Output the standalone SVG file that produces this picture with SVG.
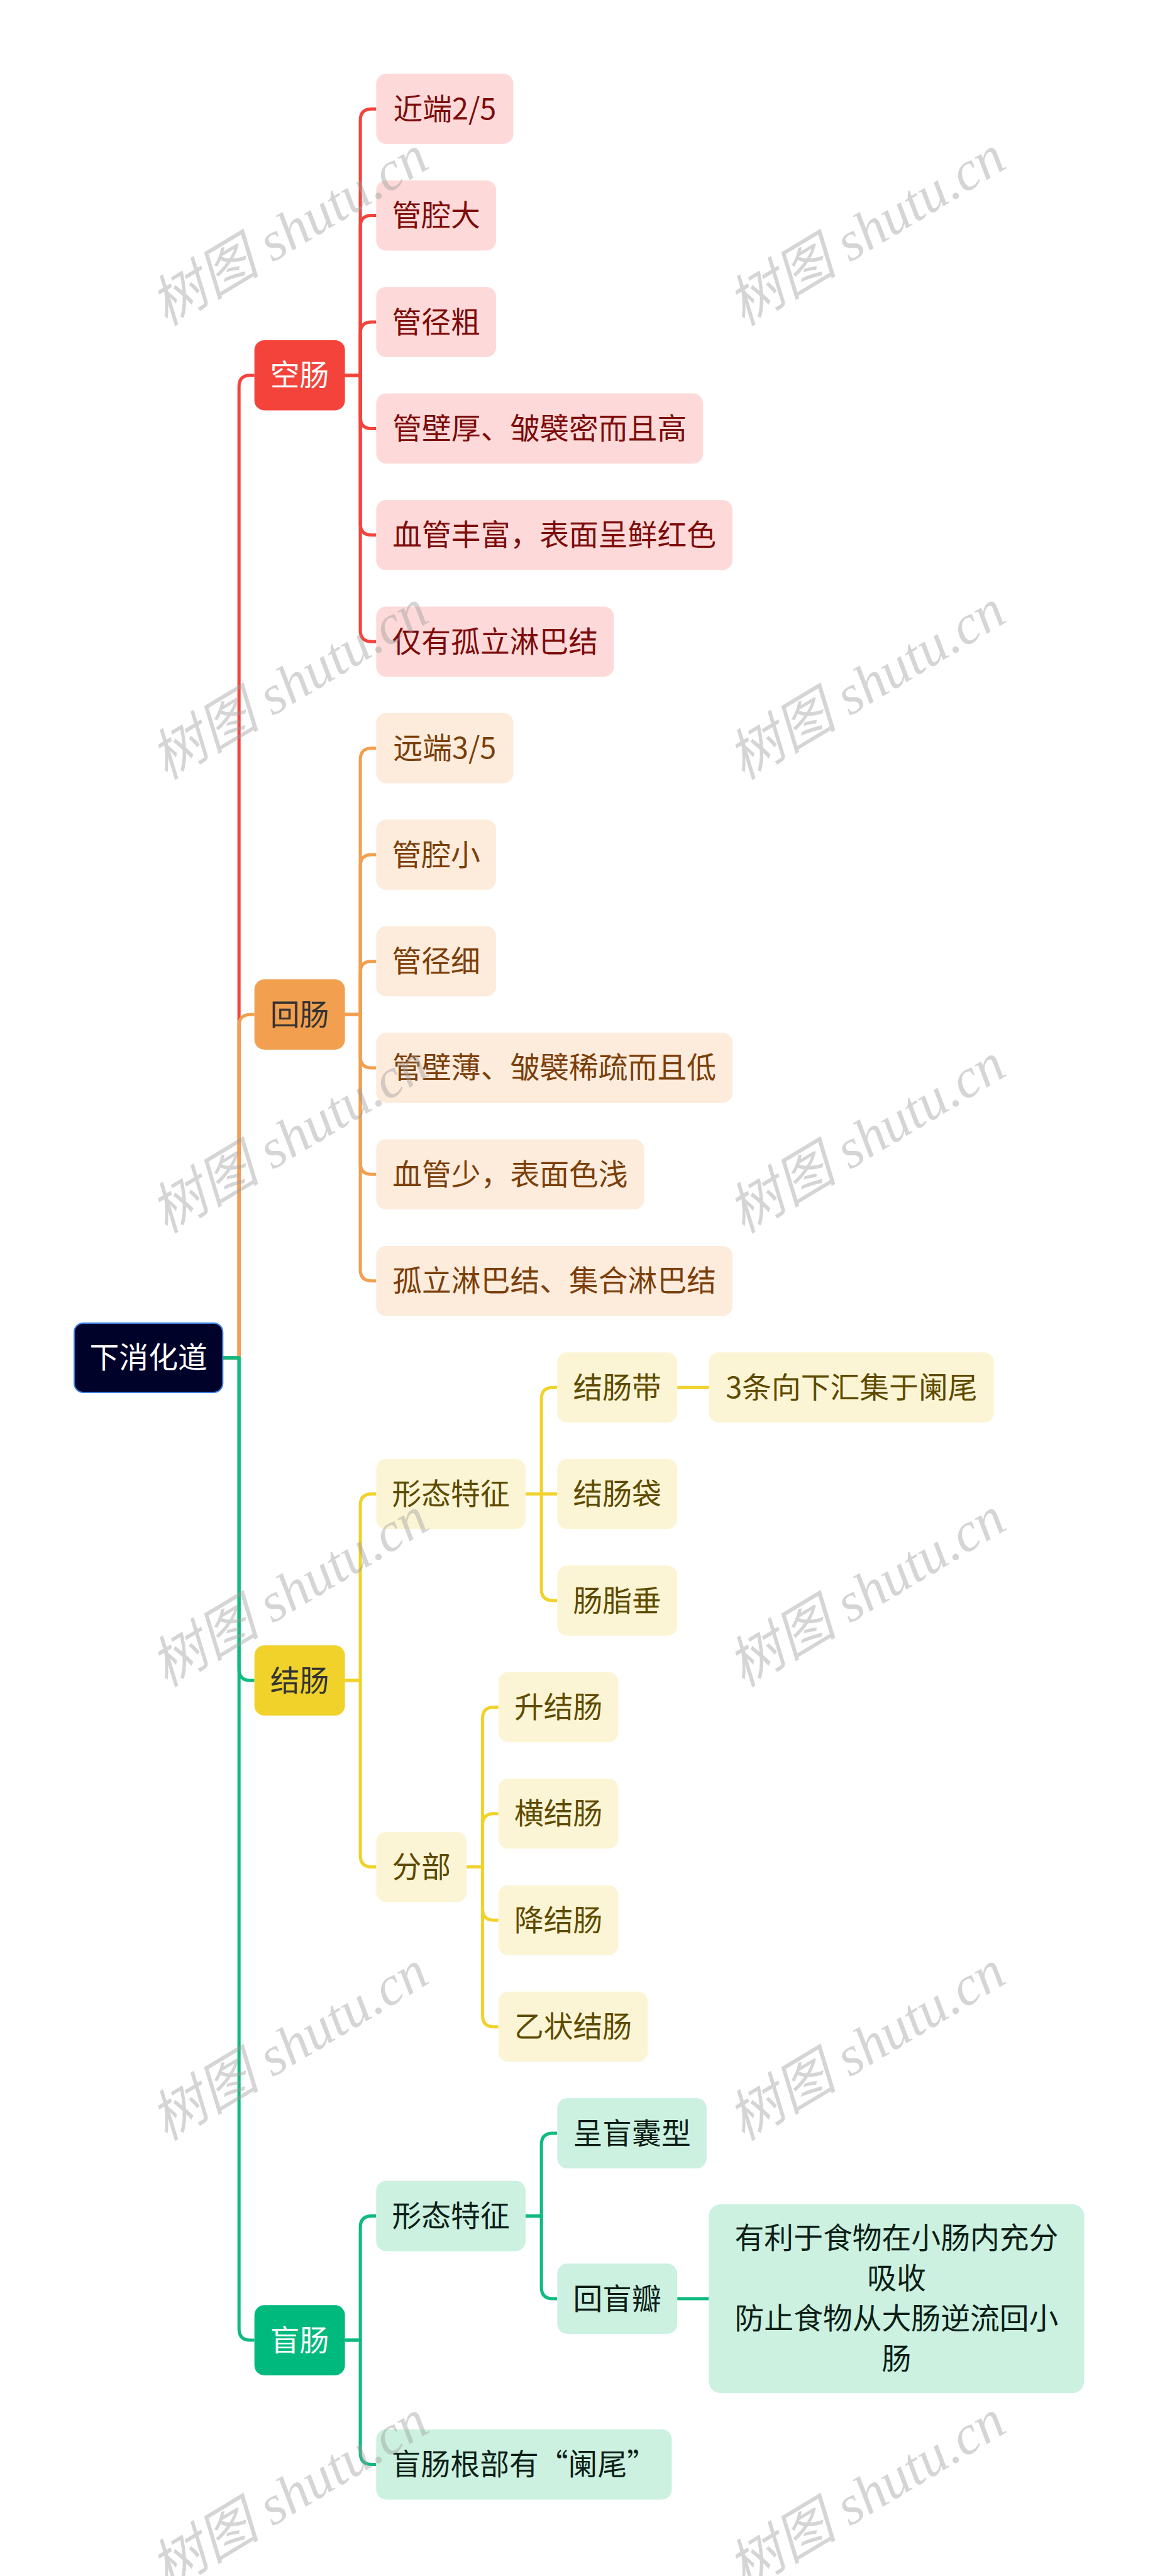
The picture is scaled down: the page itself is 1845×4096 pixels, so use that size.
<svg xmlns="http://www.w3.org/2000/svg" width="1845" height="4096" viewBox="0 0 1845 4096">
<defs>
<style>
text{font-family:"Noto Sans CJK SC","Noto Sans",sans-serif;font-size:65px;text-anchor:middle}
.c{fill:none;stroke-width:7;stroke-linejoin:round;stroke-linecap:butt}
.cr{stroke:#F4433B}.co{stroke:#F2A04F}.cy{stroke:#F1D22B}.cg{stroke:#0FBA80}
.rl rect{fill:#FDDAD9}.rl text{fill:#7E0B0B}
.ol rect{fill:#FDEBDC}.ol text{fill:#7B3F0A}
.yl rect{fill:#FCF5D5}.yl text{fill:#5E4B00}
.gl rect{fill:#CCF1E1}.gl text{fill:#0D1F17}
.wm{font-family:"Liberation Serif","Noto Sans CJK SC",serif;font-style:italic;font-size:122px;fill:#9a9a9a;fill-opacity:0.42}
</style>
</defs>
<rect x="0" y="0" width="1845" height="4096" fill="#ffffff"/>
<g transform="scale(0.72)">
<g id="connectors">
<path class="c cr" d="M493 2998.5 H528 V853.75 Q528 828.75 553 828.75 H562"/>
<path class="c co" d="M493 2998.5 H528 V2265.5 Q528 2240.5 553 2240.5 H562"/>
<path class="c cg" d="M493 2998.5 H528 V3686.2 Q528 3711.2 553 3711.2 H562"/>
<path class="c cg" d="M493 2998.5 H528 V5143.2 Q528 5168.2 553 5168.2 H562"/>
<path class="c cr" d="M762 828.75 H796 V265.5 Q796 240.5 821 240.5 H831"/>
<path class="c cr" d="M762 828.75 H796 V500.8 Q796 475.8 821 475.8 H831"/>
<path class="c cr" d="M762 828.75 H796 V736.1 Q796 711.1 821 711.1 H831"/>
<path class="c cr" d="M762 828.75 H796 V921.4 Q796 946.4 821 946.4 H831"/>
<path class="c cr" d="M762 828.75 H796 V1156.7 Q796 1181.7 821 1181.7 H831"/>
<path class="c cr" d="M762 828.75 H796 V1392 Q796 1417 821 1417 H831"/>
<path class="c co" d="M762 2240.5 H796 V1677.3 Q796 1652.3 821 1652.3 H831"/>
<path class="c co" d="M762 2240.5 H796 V1912.6 Q796 1887.6 821 1887.6 H831"/>
<path class="c co" d="M762 2240.5 H796 V2147.9 Q796 2122.9 821 2122.9 H831"/>
<path class="c co" d="M762 2240.5 H796 V2333.2 Q796 2358.2 821 2358.2 H831"/>
<path class="c co" d="M762 2240.5 H796 V2568.5 Q796 2593.5 821 2593.5 H831"/>
<path class="c co" d="M762 2240.5 H796 V2803.8 Q796 2828.8 821 2828.8 H831"/>
<path class="c cy" d="M762 3711.2 H796 V3324.4 Q796 3299.4 821 3299.4 H831"/>
<path class="c cy" d="M762 3711.2 H796 V4098 Q796 4123 821 4123 H831"/>
<path class="c cy" d="M1161 3299.4 H1196 V3089.1 Q1196 3064.1 1221 3064.1 H1231"/>
<path class="c cy" d="M1161 3299.4 H1231"/>
<path class="c cy" d="M1161 3299.4 H1196 V3509.7 Q1196 3534.7 1221 3534.7 H1231"/>
<path class="c cy" d="M1496 3064.1 H1566"/>
<path class="c cy" d="M1031 4123 H1066 V3795 Q1066 3770 1091 3770 H1101"/>
<path class="c cy" d="M1031 4123 H1066 V4030.3 Q1066 4005.3 1091 4005.3 H1101"/>
<path class="c cy" d="M1031 4123 H1066 V4215.6 Q1066 4240.6 1091 4240.6 H1101"/>
<path class="c cy" d="M1031 4123 H1066 V4450.9 Q1066 4475.9 1091 4475.9 H1101"/>
<path class="c cg" d="M762 5168.2 H796 V4918.9 Q796 4893.9 821 4893.9 H831"/>
<path class="c cg" d="M762 5168.2 H796 V5417.5 Q796 5442.5 821 5442.5 H831"/>
<path class="c cg" d="M1161 4893.9 H1196 V4736.2 Q1196 4711.2 1221 4711.2 H1231"/>
<path class="c cg" d="M1161 4893.9 H1196 V5051.5 Q1196 5076.5 1221 5076.5 H1231"/>
<path class="c cg" d="M1496 5076.5 H1566"/>
</g>

<g id="root">
<rect x="164" y="2922" width="328" height="153" rx="20" fill="#00022A" stroke="#3B7DDD" stroke-width="3"/>
<text x="328" y="3021.5" fill="#ffffff">下消化道</text>
</g>

<g id="n-kongchang">
<rect x="562" y="751.25" width="200" height="155" rx="22" fill="#F4433B"/>
<text x="662" y="851.75" fill="#ffffff">空肠</text>
</g>
<g id="n-huichang">
<rect x="562" y="2163" width="200" height="155" rx="22" fill="#F2A04F"/>
<text x="662" y="2263.5" fill="#333333">回肠</text>
</g>
<g id="n-jiechang">
<rect x="562" y="3633.7" width="200" height="155" rx="22" fill="#F1D22B"/>
<text x="662" y="3734.2" fill="#333333">结肠</text>
</g>
<g id="n-mangchang">
<rect x="562" y="5090.7" width="200" height="155" rx="22" fill="#00BA7D"/>
<text x="662" y="5191.2" fill="#ffffff">盲肠</text>
</g>

<g id="n-k1" class="rl"><rect x="831" y="163" width="303" height="155" rx="22"/><text x="982.5" y="263.5">近端2/5</text></g>
<g id="n-k2" class="rl"><rect x="831" y="398.3" width="265" height="155" rx="22"/><text x="963.5" y="498.8">管腔大</text></g>
<g id="n-k3" class="rl"><rect x="831" y="633.6" width="265" height="155" rx="22"/><text x="963.5" y="734.1">管径粗</text></g>
<g id="n-k4" class="rl"><rect x="831" y="868.9" width="722" height="155" rx="22"/><text x="1192" y="969.4">管壁厚、皱襞密而且高</text></g>
<g id="n-k5" class="rl"><rect x="831" y="1104.2" width="787" height="155" rx="22"/><text x="1224.5" y="1204.7">血管丰富，表面呈鲜红色</text></g>
<g id="n-k6" class="rl"><rect x="831" y="1339.5" width="525" height="155" rx="22"/><text x="1093.5" y="1440">仅有孤立淋巴结</text></g>

<g id="n-h1" class="ol"><rect x="831" y="1574.8" width="303" height="155" rx="22"/><text x="982.5" y="1675.3">远端3/5</text></g>
<g id="n-h2" class="ol"><rect x="831" y="1810.1" width="265" height="155" rx="22"/><text x="963.5" y="1910.6">管腔小</text></g>
<g id="n-h3" class="ol"><rect x="831" y="2045.4" width="265" height="155" rx="22"/><text x="963.5" y="2145.9">管径细</text></g>
<g id="n-h4" class="ol"><rect x="831" y="2280.7" width="787" height="155" rx="22"/><text x="1224.5" y="2381.2">管壁薄、皱襞稀疏而且低</text></g>
<g id="n-h5" class="ol"><rect x="831" y="2516" width="592" height="155" rx="22"/><text x="1127" y="2616.5">血管少，表面色浅</text></g>
<g id="n-h6" class="ol"><rect x="831" y="2751.3" width="787" height="155" rx="22"/><text x="1224.5" y="2851.8">孤立淋巴结、集合淋巴结</text></g>

<g id="n-j-xt" class="yl"><rect x="831" y="3221.9" width="330" height="155" rx="22"/><text x="996" y="3322.4">形态特征</text></g>
<g id="n-j-jcd" class="yl"><rect x="1231" y="2986.6" width="265" height="155" rx="22"/><text x="1363.5" y="3087.1">结肠带</text></g>
<g id="n-j-3t" class="yl"><rect x="1566" y="2986.6" width="630" height="155" rx="22"/><text x="1881" y="3087.1">3条向下汇集于阑尾</text></g>
<g id="n-j-jcdai" class="yl"><rect x="1231" y="3221.9" width="265" height="155" rx="22"/><text x="1363.5" y="3322.4">结肠袋</text></g>
<g id="n-j-czc" class="yl"><rect x="1231" y="3457.2" width="265" height="155" rx="22"/><text x="1363.5" y="3557.7">肠脂垂</text></g>
<g id="n-j-fb" class="yl"><rect x="831" y="4045.5" width="200" height="155" rx="22"/><text x="931" y="4146">分部</text></g>
<g id="n-j-s" class="yl"><rect x="1101" y="3692.5" width="265" height="155" rx="22"/><text x="1233.5" y="3793">升结肠</text></g>
<g id="n-j-h" class="yl"><rect x="1101" y="3927.8" width="265" height="155" rx="22"/><text x="1233.5" y="4028.3">横结肠</text></g>
<g id="n-j-j" class="yl"><rect x="1101" y="4163.1" width="265" height="155" rx="22"/><text x="1233.5" y="4263.6">降结肠</text></g>
<g id="n-j-y" class="yl"><rect x="1101" y="4398.4" width="330" height="155" rx="22"/><text x="1266" y="4498.9">乙状结肠</text></g>

<g id="n-m-xt" class="gl"><rect x="831" y="4816.4" width="330" height="155" rx="22"/><text x="996" y="4916.9">形态特征</text></g>
<g id="n-m-cmn" class="gl"><rect x="1231" y="4633.7" width="330" height="155" rx="22"/><text x="1396" y="4734.2">呈盲囊型</text></g>
<g id="n-m-hmb" class="gl"><rect x="1231" y="4999" width="265" height="155" rx="22"/><text x="1363.5" y="5099.5">回盲瓣</text></g>
<g id="n-m-big" class="gl"><rect x="1566" y="4868" width="829" height="417" rx="26"/>
<text x="1980.5" y="4965.5">有利于食物在小肠内充分</text>
<text x="1980.5" y="5054.5">吸收</text>
<text x="1980.5" y="5143.5">防止食物从大肠逆流回小</text>
<text x="1980.5" y="5232.5">肠</text></g>
<g id="n-m-gb" class="gl"><rect x="831" y="5365" width="653" height="155" rx="22"/><text x="1157.5" y="5465.5">盲肠根部有“阑尾”</text></g>

<g id="watermarks">
<text class="wm" transform="translate(660 545) rotate(-31)">树图 shutu.cn</text>
<text class="wm" transform="translate(1935 545) rotate(-31)">树图 shutu.cn</text>
<text class="wm" transform="translate(660 1547) rotate(-31)">树图 shutu.cn</text>
<text class="wm" transform="translate(1935 1547) rotate(-31)">树图 shutu.cn</text>
<text class="wm" transform="translate(660 2549) rotate(-31)">树图 shutu.cn</text>
<text class="wm" transform="translate(1935 2549) rotate(-31)">树图 shutu.cn</text>
<text class="wm" transform="translate(660 3551) rotate(-31)">树图 shutu.cn</text>
<text class="wm" transform="translate(1935 3551) rotate(-31)">树图 shutu.cn</text>
<text class="wm" transform="translate(660 4553) rotate(-31)">树图 shutu.cn</text>
<text class="wm" transform="translate(1935 4553) rotate(-31)">树图 shutu.cn</text>
<text class="wm" transform="translate(660 5545) rotate(-31)">树图 shutu.cn</text>
<text class="wm" transform="translate(1935 5545) rotate(-31)">树图 shutu.cn</text>
</g>
</g>
</svg>
